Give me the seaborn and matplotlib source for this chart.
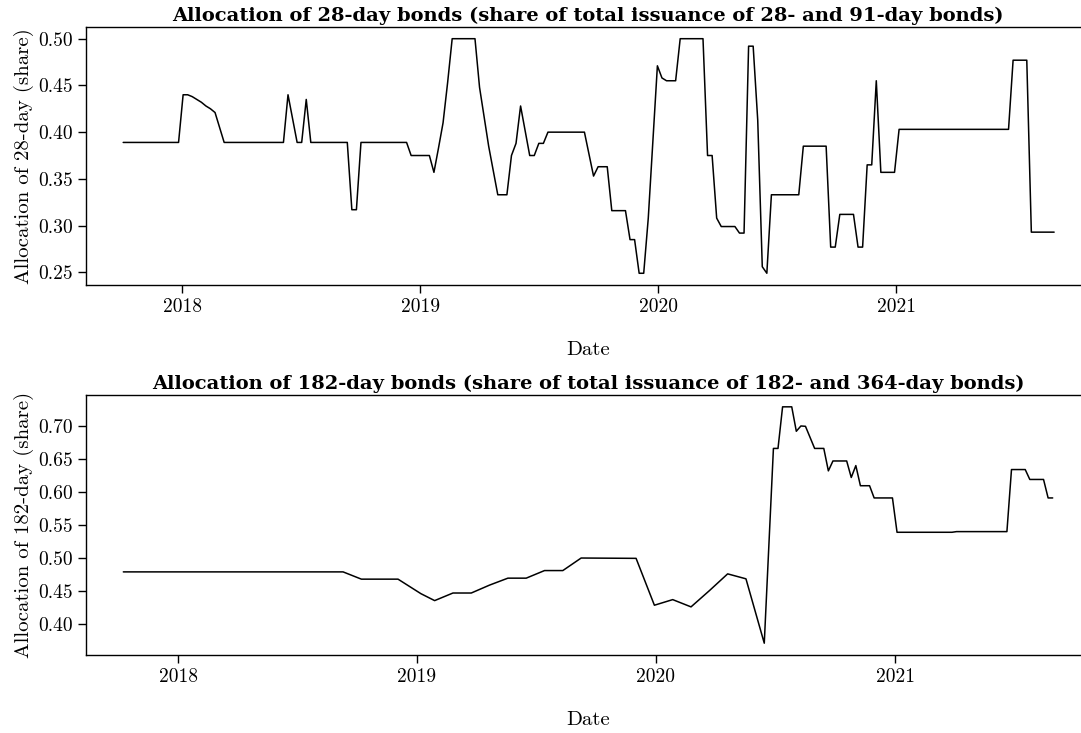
"""
Allocation of short-term bonds (28-day and 182-day shares)
"""

import pandas as pd
import matplotlib
matplotlib.use('Agg')
import matplotlib.pyplot as plt
import matplotlib.dates as mdates
from matplotlib.ticker import MultipleLocator, FormatStrFormatter
import seaborn as sns

# 28-day share of 28- and 91-day issuance
dates_28 = ['2017-10-02', '2017-12-26', '2018-01-02', '2018-01-09', '2018-01-16', '2018-01-23',
            '2018-01-30', '2018-02-06', '2018-02-13', '2018-02-20', '2018-03-06', '2018-06-05',
            '2018-06-12', '2018-06-26', '2018-07-03', '2018-07-10', '2018-07-17', '2018-09-11',
            '2018-09-18', '2018-09-25', '2018-10-02', '2018-12-11', '2018-12-18', '2019-01-15',
            '2019-01-22', '2019-01-29', '2019-02-05', '2019-02-12', '2019-02-19', '2019-03-26',
            '2019-04-02', '2019-04-16', '2019-04-30', '2019-05-14', '2019-05-21', '2019-05-28',
            '2019-06-04', '2019-06-18', '2019-06-25', '2019-07-02', '2019-07-09', '2019-07-16',
            '2019-09-10', '2019-09-24', '2019-10-01', '2019-10-15', '2019-10-22', '2019-11-12',
            '2019-11-19', '2019-11-26', '2019-12-03', '2019-12-10', '2019-12-17', '2019-12-31',
            '2020-01-07', '2020-01-14', '2020-01-28', '2020-02-04', '2020-03-10', '2020-03-17',
            '2020-03-24', '2020-03-31', '2020-04-07', '2020-04-28', '2020-05-05', '2020-05-12',
            '2020-05-19', '2020-05-26', '2020-06-02', '2020-06-09', '2020-06-16', '2020-06-23',
            '2020-08-04', '2020-08-11', '2020-09-15', '2020-09-22', '2020-09-29', '2020-10-06',
            '2020-10-27', '2020-11-03', '2020-11-10', '2020-11-17', '2020-11-24', '2020-12-01',
            '2020-12-08', '2020-12-29', '2021-01-05', '2021-06-22', '2021-06-29', '2021-07-20',
            '2021-07-27', '2021-08-31']
share_28 = [0.389, 0.389, 0.440, 0.440, 0.438, 0.435,
            0.432, 0.428, 0.425, 0.421, 0.389, 0.389,
            0.440, 0.389, 0.389, 0.435, 0.389, 0.389,
            0.317, 0.317, 0.389, 0.389, 0.375, 0.375,
            0.357, 0.383, 0.410, 0.453, 0.500, 0.500,
            0.448, 0.385, 0.333, 0.333, 0.375, 0.388,
            0.428, 0.375, 0.375, 0.388, 0.388, 0.400,
            0.400, 0.353, 0.363, 0.363, 0.316, 0.316,
            0.285, 0.285, 0.249, 0.249, 0.308, 0.471,
            0.458, 0.455, 0.455, 0.500, 0.500, 0.375,
            0.375, 0.308, 0.299, 0.299, 0.292, 0.292,
            0.492, 0.492, 0.413, 0.256, 0.249, 0.333,
            0.333, 0.385, 0.385, 0.277, 0.277, 0.312,
            0.312, 0.277, 0.277, 0.365, 0.365, 0.455,
            0.357, 0.357, 0.403, 0.403, 0.477, 0.477,
            0.293, 0.293]

# 182-day share of 182- and 364-day issuance
dates_182 = ['2017-10-09', '2018-09-10', '2018-10-08', '2018-12-03', '2019-01-07', '2019-01-28',
             '2019-02-25', '2019-03-25', '2019-04-22', '2019-05-20', '2019-06-17', '2019-07-15',
             '2019-08-12', '2019-09-09', '2019-12-02', '2019-12-30', '2020-01-27', '2020-02-24',
             '2020-03-23', '2020-04-20', '2020-05-18', '2020-06-15', '2020-06-29', '2020-07-06',
             '2020-07-13', '2020-07-27', '2020-08-03', '2020-08-10', '2020-08-17', '2020-08-31',
             '2020-09-14', '2020-09-21', '2020-09-28', '2020-10-19', '2020-10-26', '2020-11-02',
             '2020-11-09', '2020-11-23', '2020-11-30', '2020-12-28', '2021-01-04', '2021-03-29',
             '2021-04-05', '2021-06-21', '2021-06-28', '2021-07-19', '2021-07-26', '2021-08-16',
             '2021-08-23', '2021-08-30']
share_182 = [0.4795, 0.4795, 0.4685, 0.4685, 0.4465, 0.436,
             0.4475, 0.4475, 0.4595, 0.470, 0.470, 0.4815,
             0.4815, 0.5005, 0.500, 0.429, 0.4375, 0.4265,
             0.451, 0.4765, 0.469, 0.3715, 0.6665, 0.6665,
             0.7295, 0.7295, 0.6925, 0.7005, 0.700, 0.6665,
             0.6665, 0.6325, 0.6475, 0.6475, 0.6225, 0.6405,
             0.610, 0.610, 0.5915, 0.5915, 0.5395, 0.5395,
             0.5405, 0.5405, 0.6345, 0.6345, 0.6195, 0.6195,
             0.5915, 0.5915]

titles = ['Allocation of 28-day bonds (share of total issuance of 28- and 91-day bonds)',
          'Allocation of 182-day bonds (share of total issuance of 182- and 364-day bonds)']
ylabels = ['Allocation of 28-day (share)', 'Allocation of 182-day (share)']
xlims = [('2017-08-06', '2021-10-25'), ('2017-08-13', '2021-10-26')]

sns.set_style('ticks')
plt.rcParams['font.family'] = ['cmr10', 'DejaVu Serif']
plt.rcParams['axes.formatter.use_mathtext'] = True
plt.rcParams['mathtext.fontset'] = 'cm'
plt.rcParams['text.color'] = 'black'
plt.rcParams['axes.labelcolor'] = 'black'
plt.rcParams['xtick.color'] = 'black'
plt.rcParams['ytick.color'] = 'black'

df_28 = pd.DataFrame({'Date': pd.to_datetime(dates_28), 'share': share_28})
df_182 = pd.DataFrame({'Date': pd.to_datetime(dates_182), 'share': share_182})

fig = plt.figure(figsize=(10.81, 7.33), dpi=100)
ax1 = fig.add_axes([0.0796, 0.6112, 0.9287, 0.3520])
ax2 = fig.add_axes([0.0796, 0.1064, 0.9287, 0.3547])

for ax, df, title, ylab, lim in zip([ax1, ax2], [df_28, df_182], titles, ylabels, xlims):
    sns.lineplot(data=df, x='Date', y='share', ax=ax, color='black', linewidth=1.1)
    ax.set_xlim(pd.Timestamp(lim[0]), pd.Timestamp(lim[1]))
    ax.xaxis.set_major_locator(mdates.YearLocator())
    ax.xaxis.set_major_formatter(mdates.DateFormatter('%Y'))
    ax.yaxis.set_major_locator(MultipleLocator(0.05))
    ax.yaxis.set_major_formatter(FormatStrFormatter('%.2f'))
    ax.set_title(title, fontsize=14, fontfamily='DejaVu Serif', fontweight='bold', pad=4)
    ax.set_xlabel('Date', fontsize=15, labelpad=18)
    ax.set_ylabel(ylab, fontsize=15, labelpad=3)
    ax.tick_params(labelsize=14, length=6, width=1, direction='out', color='black')
    for s in ax.spines.values():
        s.set_color('black')
        s.set_linewidth(1)

plt.savefig('out.png', dpi=100)
plt.close()
